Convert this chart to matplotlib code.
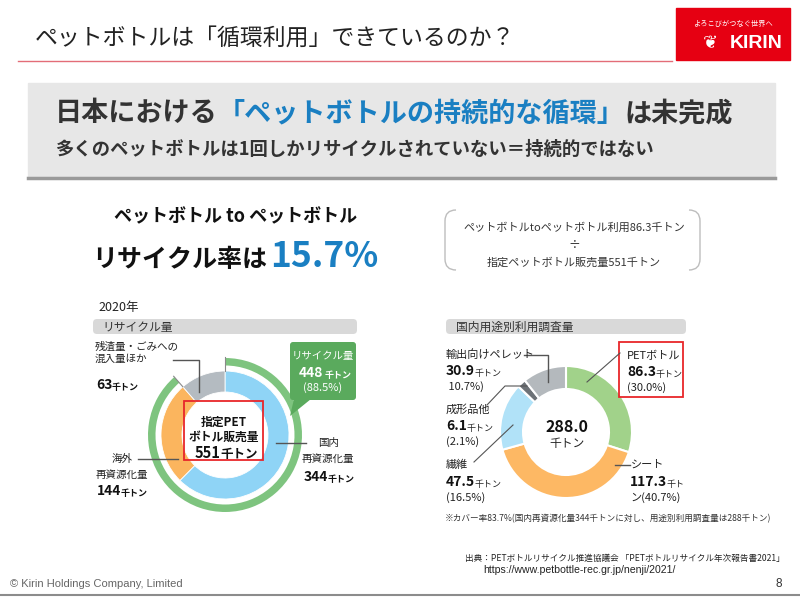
import numpy as np
import matplotlib.pyplot as plt
from matplotlib.patches import Rectangle, FancyBboxPatch, PathPatch, Polygon
from matplotlib.path import Path

plt.rcParams['font.family'] = ['Noto Sans CJK JP', 'DejaVu Sans']

# 左: 2020年 リサイクル量 (千トン)
left_names = ['国内\n再資源化量', '海外\n再資源化量', '残渣量・ごみへの\n混入量ほか']
left_vals = [344, 144, 63]
left_colors = ['#8fd4f6', '#fbb55e', '#b4bbc1']
sales_total = 551
recycle_label = '448'      # スライド上の表記のまま
recycle_pct = '(88.5%)'

# 右: 国内用途別利用調査量 (千トン)
right_names = ['PETボトル', 'シート', '繊維', '成形品他', '輸出向けペレット']
right_vals = [86.3, 117.3, 47.5, 6.1, 30.9]
right_pcts = ['(30.0%)', 'ン(40.7%)', '(16.5%)', '(2.1%)', ' 10.7%)']
right_colors = ['#a1d28a', '#fdb864', '#b1e2f8', '#6d7277', '#b4b9bd']
right_total = 288.0

W, H = 800, 602
fig = plt.figure(figsize=(W / 100, H / 100), dpi=100)


def pie_axes(cx, cy, half):
    return fig.add_axes([(cx - half) / W, (H - cy - half) / H, 2 * half / W, 2 * half / H])


# ---- donuts ----
axl = pie_axes(225, 435, 85)
axl.pie([sum(left_vals[:2]), left_vals[2]], radius=77, colors=['#7ec47f', 'none'],
        startangle=90, counterclock=False, wedgeprops=dict(width=7.5, linewidth=0))
axl.pie(left_vals, radius=64, colors=left_colors, startangle=90, counterclock=False,
        wedgeprops=dict(width=21, edgecolor='white', linewidth=0.6))
# 区切り線
for frac in [0, sum(left_vals[:2]) / sum(left_vals)]:
    ang = np.deg2rad(90 - 360 * frac)
    axl.plot([64 * np.cos(ang), 78 * np.cos(ang)], [64 * np.sin(ang), 78 * np.sin(ang)],
             color='#8a8a8a', lw=0.8)
axl.set_xlim(-85, 85)
axl.set_ylim(-85, 85)
axl.set_aspect('equal')
axl.axis('off')

axr = pie_axes(566, 432, 85)
axr.pie(right_vals, radius=66, colors=right_colors, startangle=90, counterclock=False,
        wedgeprops=dict(width=23, edgecolor='white', linewidth=1.5))
axr.set_xlim(-85, 85)
axr.set_ylim(-85, 85)
axr.set_aspect('equal')
axr.axis('off')

# ---- overlay in pixel coordinates ----
ax = fig.add_axes([0, 0, 1, 1])
ax.set_xlim(0, W)
ax.set_ylim(H, 0)
ax.axis('off')
ax.patch.set_visible(False)


def runs(x, y, parts, family=None, tight=0):
    # 文字列を横に連結 (前の文字の右下に次を置く)
    prev = None
    for s, size, weight, color in parts:
        kw = dict(fontsize=size, fontweight=weight, color=color, ha='left', va='bottom')
        if family:
            kw['family'] = family
        if prev is None:
            prev = ax.text(x, y, s, **kw)
        else:
            prev = ax.annotate(s, xy=(1, 0), xycoords=prev, xytext=(-tight, 0),
                               textcoords='offset points', **kw)
    return prev


def num_label(x, y, val, color='#111111', unit='千トン', usize=6.5, uweight='normal', uc='#222222'):
    runs(x, y, [(f'{val}', 10, 'bold', color), (unit, usize, uweight, uc)], tight=0.5)


# title
ax.text(35, 38, 'ペットボトルは「循環利用」できているのか？', fontsize=16.5, color='#222222', va='center')
ax.plot([18, 672], [61, 61], color='#e36d78', lw=1)

# logo
ax.add_patch(Rectangle((676, 8), 114, 52, color='#e60012'))
ax.text(733, 24, 'よろこびがつなぐ世界へ', fontsize=5.2, color='white', ha='center', va='center')
ax.text(710, 43, '❦', fontsize=13, color='white', ha='center', va='center', family='DejaVu Sans')
ax.text(756, 43, 'KIRIN', fontsize=14, fontweight='bold', color='white', ha='center', va='center',
        family='Liberation Sans')

# banner
ax.add_patch(Rectangle((28, 83), 747, 95, color='#e7e7e7'))
ax.plot([28, 775], [178, 178], color='#9a9a9a', lw=2.5)
runs(55, 127, [('日本における', 19.5, 'bold', '#333333'),
               ('「ペットボトルの持続的な循環」', 19.5, 'bold', '#1a7fc2'),
               ('は未完成', 19.5, 'bold', '#333333')])
ax.text(55, 155, '多くのペットボトルは1回しかリサイクルされていない＝持続的ではない',
        fontsize=13.2, fontweight='bold', color='#333333', va='baseline')

# recycle rate
ax.text(236, 217, 'ペットボトル to ペットボトル', fontsize=13, fontweight='bold', color='#111111',
        ha='center', va='center')
ax.text(267, 267, 'リサイクル率は', fontsize=18, fontweight='bold', color='#111111',
        ha='right', va='baseline')
ax.text(270, 267, '15.7%', fontsize=25.5, fontweight='bold', color='#1a7fc2', ha='left', va='baseline')

# bracket box
for sgn, x0 in [(1, 445), (-1, 700)]:
    p = Path([(x0 + sgn * 11, 210), (x0, 210), (x0, 221), (x0, 259), (x0, 270), (x0 + sgn * 11, 270)],
             [Path.MOVETO, Path.CURVE3, Path.CURVE3, Path.LINETO, Path.CURVE3, Path.CURVE3])
    ax.add_patch(PathPatch(p, fill=False, edgecolor='#bdbdbd', lw=1))
ax.text(574, 228, 'ペットボトルtoペットボトル利用86.3千トン', fontsize=8, color='#333333',
        ha='center', va='center')
ax.text(574, 245, '÷', fontsize=8.5, color='#333333', ha='center', va='center')
ax.text(574, 262, f'指定ペットボトル販売量{sales_total}千トン', fontsize=8, color='#333333',
        ha='center', va='center')

# section headers
ax.text(98, 307, '2020年', fontsize=9, color='#222222', va='center')
ax.add_patch(FancyBboxPatch((93, 319), 264, 15, boxstyle='round,pad=0,rounding_size=4',
                            color='#d9d9d9', lw=0))
ax.text(102, 327, 'リサイクル量', fontsize=8.5, color='#333333', va='center')
ax.add_patch(FancyBboxPatch((446, 319), 240, 15, boxstyle='round,pad=0,rounding_size=4',
                            color='#d9d9d9', lw=0))
ax.text(456, 327, '国内用途別利用調査量', fontsize=8.5, color='#333333', va='center')

lc = '#555555'
# left labels
ax.plot([173, 199, 199], [360, 360, 392], color=lc, lw=1)
ax.text(95, 353, left_names[2], fontsize=7.6, color='#222222', va='center', linespacing=1.3)
num_label(96, 392, left_vals[2], uweight='bold', uc='#111111')

ax.plot([138, 178], [459, 459], color=lc, lw=1)
ax.text(112, 459, '海外', fontsize=7.6, color='#222222', va='center')
ax.text(96, 475, '再資源化量', fontsize=7.6, color='#222222', va='center')
num_label(97, 498, left_vals[1], uweight='bold', uc='#111111')

ax.plot([276, 306], [443, 443], color=lc, lw=1)
ax.text(318, 443, '国内', fontsize=7.6, color='#222222', va='center')
ax.text(302, 459, '再資源化量', fontsize=7.6, color='#222222', va='center')
num_label(304, 484, left_vals[0], uweight='bold', uc='#111111')

# callout
ax.add_patch(FancyBboxPatch((290, 342), 66, 58, boxstyle='round,pad=0,rounding_size=3',
                            color='#5aaa5d', lw=0))
ax.add_patch(Polygon([(294, 399), (311, 399), (290, 416)], color='#5aaa5d', lw=0))
ax.text(323, 356, 'リサイクル量', fontsize=7.5, color='white', ha='center', va='center')
runs(299, 380, [(recycle_label, 10, 'bold', 'white'), ('千トン', 6.5, 'bold', 'white')], tight=-1)
ax.text(323, 388, recycle_pct, fontsize=8, color='white', ha='center', va='center')

# center of left donut
ax.add_patch(Rectangle((184, 401), 79, 59, fill=False, edgecolor='#e8262a', lw=1.3))
ax.text(224, 422, '指定PET', fontsize=8.5, fontweight='bold', color='#111111', ha='center', va='center')
ax.text(224, 437, 'ボトル販売量', fontsize=8.5, fontweight='bold', color='#111111', ha='center', va='center')
runs(195, 461, [(f'{sales_total}', 10.5, 'bold', '#111111'), ('千トン', 9, 'bold', '#111111')])

# right labels
ax.plot([587, 620], [382, 353], color=lc, lw=0.8)
ax.add_patch(Rectangle((619, 342), 64, 55, fill=False, edgecolor='#e8262a', lw=1.3))
ax.text(627, 356, right_names[0], fontsize=8, color='#222222', va='center')
num_label(627, 379, right_vals[0])
ax.text(627, 388, right_pcts[0], fontsize=8, color='#222222', va='center')

ax.plot([615, 630], [465, 465], color=lc, lw=1)
ax.text(631, 465, right_names[1], fontsize=8, color='#222222', va='center')
num_label(630, 489, right_vals[1], unit='千ト')
ax.text(630, 498, right_pcts[1], fontsize=8, color='#222222', va='center')

ax.plot([474, 513], [462, 425], color=lc, lw=0.8)
ax.text(446, 465, right_names[2], fontsize=8, color='#222222', va='center')
num_label(446, 489, right_vals[2])
ax.text(446, 498, right_pcts[2], fontsize=8, color='#222222', va='center')

ax.plot([487, 505, 527], [405, 386, 386], color=lc, lw=0.8)
ax.text(446, 410, right_names[3], fontsize=8, color='#222222', va='center')
num_label(446, 433, right_vals[3])
ax.text(446, 442, right_pcts[3], fontsize=8, color='#222222', va='center')

ax.plot([524, 548, 548], [355, 355, 382], color=lc, lw=1)
ax.text(446, 355, right_names[4], fontsize=8, color='#222222', va='center')
num_label(446, 378, right_vals[4])
ax.text(446, 387, right_pcts[4], fontsize=8, color='#222222', va='center')

ax.text(567, 427, f'{right_total:.1f}', fontsize=11.5, fontweight='bold', color='#111111',
        ha='center', va='center')
ax.text(567, 443, '千トン', fontsize=8.5, color='#222222', ha='center', va='center')

# notes
ax.text(445, 519, '※カバー率83.7%(国内再資源化量344千トンに対し、用途別利用調査量は288千トン)',
        fontsize=6.2, color='#333333', va='center')
ax.text(465, 558, '出典：PETボトルリサイクル推進協議会 「PETボトルリサイクル年次報告書2021」',
        fontsize=6.2, color='#222222', va='center')
ax.text(483, 570, 'https://www.petbottle-rec.gr.jp/nenji/2021/', fontsize=7.6, color='#222222',
        va='center', family='Liberation Sans')

# footer
ax.plot([0, W], [595, 595], color='#8c8c8c', lw=1.5)
ax.text(10, 584, '© Kirin Holdings Company, Limited', fontsize=8, color='#666666', va='center',
        family='Liberation Sans')
ax.text(776, 584, '8', fontsize=8.5, color='#333333', va='center', family='Liberation Sans')

fig.savefig('out.png', dpi=100)
